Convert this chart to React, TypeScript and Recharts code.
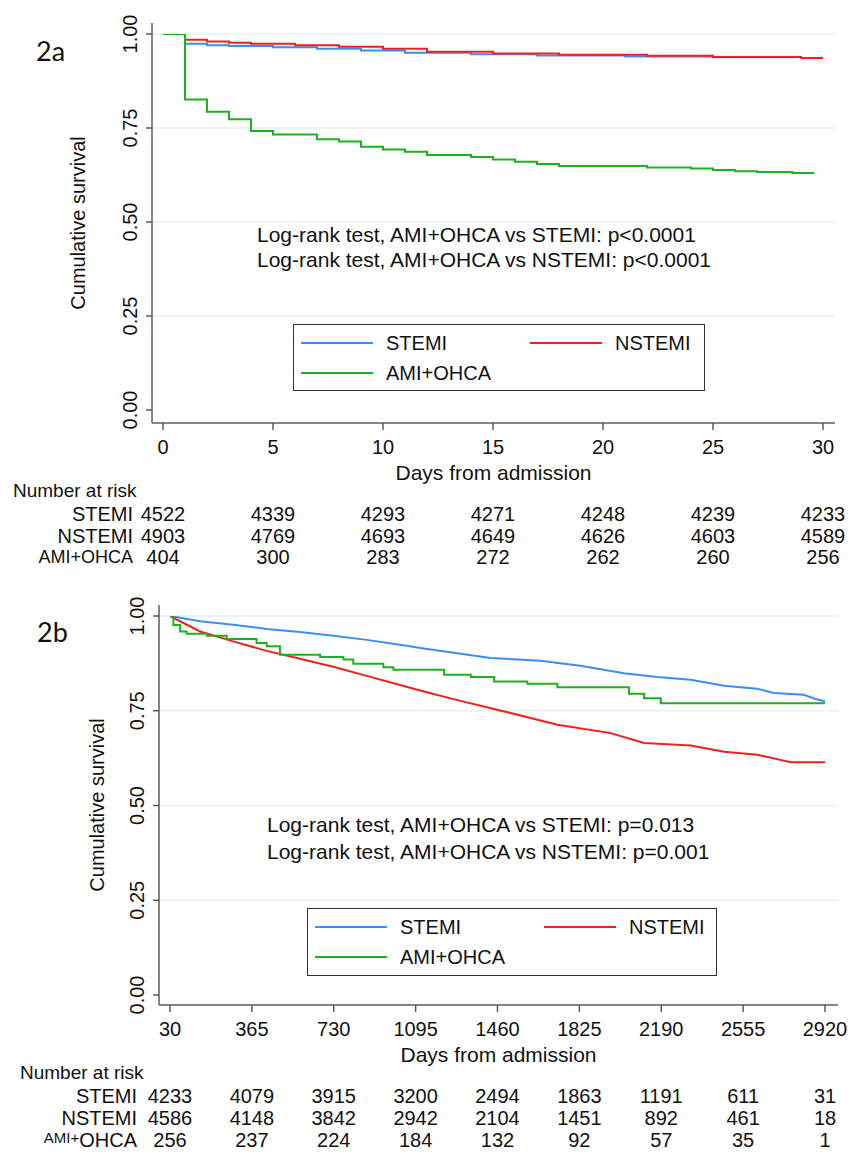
import React from "react";
import { LineChart, Line, XAxis, YAxis, CartesianGrid, Legend } from "recharts";

const FONT = '"Liberation Sans", Arial, Helvetica, sans-serif';
const AXIS = "#5c5c5c";
const INK = "#111";

const seriesNames = ["STEMI", "NSTEMI", "AMI+OHCA"];
const seriesColors = ["#3a8ef2", "#f41e1e", "#1db21d"];
const yTicks = [0, 0.25, 0.5, 0.75, 1];
const yTickLabels = ["0.00", "0.25", "0.50", "0.75", "1.00"];

// 2a: first 30 days
const ticksA = [0, 5, 10, 15, 20, 25, 30];
const tickLabelsA = ["0", "5", "10", "15", "20", "25", "30"];
const stemiDaysA = [0, 1, 2, 3, 5, 7, 9, 11, 14, 17, 21, 25, 28.8];
const stemiSurvA = [1, 0.974, 0.97, 0.968, 0.965, 0.961, 0.956, 0.95, 0.946, 0.943, 0.94, 0.938, 0.938];
const nstemiDaysA = [0, 1, 2, 3, 4, 6, 8, 10, 12, 15, 18, 22, 25, 29, 30];
const nstemiSurvA = [1, 0.985, 0.98, 0.977, 0.974, 0.97, 0.966, 0.961, 0.953, 0.948, 0.945, 0.942, 0.939, 0.936, 0.936];
const ohcaDaysA = [0, 1, 2, 3, 4, 5, 7, 8, 9, 10, 11, 12, 14, 15, 16, 17, 18, 22, 24, 25, 26, 27, 28.6, 29.6];
const ohcaSurvA = [1, 0.826, 0.793, 0.773, 0.742, 0.733, 0.72, 0.714, 0.7, 0.693, 0.687, 0.678, 0.673, 0.666, 0.66, 0.654, 0.649, 0.645, 0.642, 0.638, 0.635, 0.633, 0.63, 0.63];
const riskStemiA = [4522, 4339, 4293, 4271, 4248, 4239, 4233];
const riskNstemiA = [4903, 4769, 4693, 4649, 4626, 4603, 4589];
const riskOhcaA = [404, 300, 283, 272, 262, 260, 256];
const testsA = [
  "Log-rank test, AMI+OHCA vs STEMI: p<0.0001",
  "Log-rank test, AMI+OHCA vs NSTEMI: p<0.0001",
];

// 2b: 30 days to 8 years (tick "30" sits at position 0)
const ticksB = [0, 365, 730, 1095, 1460, 1825, 2190, 2555, 2920];
const tickLabelsB = ["30", "365", "730", "1095", "1460", "1825", "2190", "2555", "2920"];
const stemiDaysB = [0, 134, 281, 431, 580, 728, 877, 1025, 1132, 1281, 1429, 1651, 1829, 2024, 2172, 2321, 2470, 2618, 2692, 2826, 2878, 2922];
const stemiSurvB = [1, 0.986, 0.977, 0.966, 0.958, 0.948, 0.937, 0.924, 0.914, 0.902, 0.889, 0.882, 0.869, 0.849, 0.839, 0.832, 0.816, 0.808, 0.797, 0.792, 0.781, 0.775];
const nstemiDaysB = [0, 45, 89, 134, 281, 431, 580, 727, 877, 1025, 1132, 1281, 1519, 1727, 1965, 2113, 2321, 2470, 2618, 2767, 2927];
const nstemiSurvB = [1, 0.986, 0.973, 0.959, 0.933, 0.908, 0.887, 0.866, 0.842, 0.818, 0.801, 0.778, 0.744, 0.713, 0.691, 0.665, 0.658, 0.642, 0.634, 0.614, 0.614];
const ohcaDaysB = [0, 15, 45, 74, 164, 253, 386, 431, 490, 669, 773, 817, 951, 996, 1222, 1341, 1445, 1593, 1727, 2046, 2113, 2188, 2922];
const ohcaSurvB = [1, 0.976, 0.959, 0.953, 0.948, 0.939, 0.929, 0.92, 0.898, 0.892, 0.885, 0.874, 0.865, 0.858, 0.845, 0.839, 0.827, 0.821, 0.812, 0.795, 0.783, 0.77, 0.77];
const riskStemiB = [4233, 4079, 3915, 3200, 2494, 1863, 1191, 611, 31];
const riskNstemiB = [4586, 4148, 3842, 2942, 2104, 1451, 892, 461, 18];
const riskOhcaB = [256, 237, 224, 184, 132, 92, 57, 35, 1];
const testsB = [
  "Log-rank test, AMI+OHCA vs STEMI: p=0.013",
  "Log-rank test, AMI+OHCA vs NSTEMI: p=0.001",
];

const toPoints = (days: number[], surv: number[]) => days.map((t, i) => ({ t, s: surv[i] }));

const panelA = {
  tag: "2a",
  top: 0,
  ticks: ticksA,
  tickLabels: tickLabelsA,
  domain: [0, 30],
  days: [stemiDaysA, nstemiDaysA, ohcaDaysA],
  surv: [stemiSurvA, nstemiSurvA, ohcaSurvA],
  risk: [riskStemiA, riskNstemiA, riskOhcaA],
  tests: testsA,
  lineTypes: ["stepAfter", "stepAfter", "stepAfter"],
  plot: { left: 152, right: 835, top: 23, bottom: 423 },
  padX: { left: 11, right: 12 },
  padY: { top: 11, bottom: 13 },
  axisHeights: [58, 23, 22, 21, 22],
  legend: { left: 293, top: 324, width: 412, height: 67 },
  tagPos: [36, 61],
  testPos: [257, 242, 25],
  ylabelX: 78,
  narX: 13,
  rowLabelX: 133,
  smallAmi: false,
};

const panelB = {
  tag: "2b",
  top: 580,
  ticks: ticksB,
  tickLabels: tickLabelsB,
  domain: [0, 2920],
  days: [stemiDaysB, nstemiDaysB, ohcaDaysB],
  surv: [stemiSurvB, nstemiSurvB, ohcaSurvB],
  risk: [riskStemiB, riskNstemiB, riskOhcaB],
  tests: testsB,
  lineTypes: ["linear", "linear", "stepAfter"],
  plot: { left: 159, right: 838, top: 25, bottom: 425 },
  padX: { left: 11, right: 13 },
  padY: { top: 11, bottom: 10 },
  axisHeights: [58, 23, 22, 22, 20],
  legend: { left: 307, top: 328, width: 410, height: 68 },
  tagPos: [37, 62],
  testPos: [267, 252, 27],
  ylabelX: 97,
  narX: 20,
  rowLabelX: 137,
  smallAmi: true,
};

function LegendBox({ payload }: any) {
  const items = payload || [];
  return (
    <div
      style={{
        position: "relative",
        width: "100%",
        height: "100%",
        boxSizing: "border-box",
        border: "1.5px solid #333",
        background: "#fff",
        fontFamily: FONT,
        fontSize: 20,
        color: INK,
      }}
    >
      {seriesNames.map((name, i) => {
        const entry = items.find((p: any) => p.value === name);
        const color = entry ? entry.color : seriesColors[i];
        const col = i % 2;
        const row = Math.floor(i / 2);
        const left = 7 + col * 229;
        const top = 18 + row * 30;
        return (
          <div key={name}>
            <div
              style={{
                position: "absolute",
                left,
                top: top - 1,
                width: 72,
                height: 2,
                background: color,
              }}
            />
            <div
              style={{
                position: "absolute",
                left: left + 85,
                top: top - 11,
                lineHeight: "22px",
                whiteSpace: "nowrap",
              }}
            >
              {name}
            </div>
          </div>
        );
      })}
    </div>
  );
}

function SurvivalPanel({ cfg }: { cfg: typeof panelA }) {
  const { plot } = cfg;
  const height = plot.bottom + cfg.axisHeights.reduce((a, b) => a + b, 0);
  const midX = (plot.left + plot.right) / 2;

  const yTick = (props: any) => {
    const { x, y, index } = props;
    const bx = x - 9;
    return (
      <text x={bx} y={y} transform={`rotate(-90 ${bx} ${y})`} textAnchor="middle" fontSize={20} fill={INK} fontFamily={FONT}>
        {yTickLabels[index]}
      </text>
    );
  };

  const xTick = (props: any) => (
    <text x={props.x} y={props.y + 24} textAnchor="middle" fontSize={20} fill={INK} fontFamily={FONT}>
      {cfg.tickLabels[props.index]}
    </text>
  );

  const narTick = (props: any) =>
    props.index === 0 ? (
      <text x={cfg.narX} y={props.y + 16} textAnchor="start" fontSize={19} fill={INK} fontFamily={FONT}>
        Number at risk
      </text>
    ) : (
      <g />
    );

  const riskTick = (row: number) => (props: any) => {
    const { x, y, index } = props;
    let label: React.ReactNode = seriesNames[row];
    if (row === 2) {
      label = cfg.smallAmi ? (
        <>
          <tspan fontSize={15} dy={-4}>AMI+</tspan>
          <tspan dy={4}>OHCA</tspan>
        </>
      ) : (
        <tspan fontSize={18} dy={-1}>AMI+OHCA</tspan>
      );
    }
    return (
      <g>
        {index === 0 ? (
          <text x={cfg.rowLabelX} y={y + 17} textAnchor="end" fontSize={20} fill={INK} fontFamily={FONT}>
            {label}
          </text>
        ) : null}
        <text x={x} y={y + 17} textAnchor="middle" fontSize={20} fill={INK} fontFamily={FONT}>
          {cfg.risk[row][index]}
        </text>
      </g>
    );
  };

  const riskAxis = (id: string, h: number, tick: any) => (
    <XAxis
      key={id}
      xAxisId={id}
      type="number"
      dataKey="t"
      domain={cfg.domain}
      allowDataOverflow
      ticks={cfg.ticks}
      interval={0}
      padding={cfg.padX}
      height={h}
      axisLine={false}
      tickLine={false}
      tickSize={0}
      tickMargin={0}
      tick={tick}
    />
  );

  return (
    <div style={{ position: "absolute", left: 0, top: cfg.top, width: 848, height }}>
      <LineChart
        width={848}
        height={height}
        margin={{ top: plot.top, right: 848 - plot.right, left: 0, bottom: 0 }}
        style={{ fontFamily: FONT }}
      >
        <CartesianGrid vertical={false} horizontalValues={[0.25, 0.5, 0.75, 1]} stroke="#e6eff6" strokeWidth={1.5} />
        <XAxis
          xAxisId={0}
          type="number"
          dataKey="t"
          domain={cfg.domain}
          allowDataOverflow
          ticks={cfg.ticks}
          interval={0}
          padding={cfg.padX}
          height={cfg.axisHeights[0]}
          axisLine={{ stroke: AXIS, strokeWidth: 1.5 }}
          tickLine={{ stroke: AXIS, strokeWidth: 1.5 }}
          tickSize={7}
          tickMargin={0}
          tick={xTick}
          label={() => (
            <text x={midX} y={plot.bottom + 57} textAnchor="middle" fontSize={21} fill={INK} fontFamily={FONT}>
              Days from admission
            </text>
          )}
        />
        {riskAxis("nar", cfg.axisHeights[1], narTick)}
        {riskAxis("r0", cfg.axisHeights[2], riskTick(0))}
        {riskAxis("r1", cfg.axisHeights[3], riskTick(1))}
        {riskAxis("r2", cfg.axisHeights[4], riskTick(2))}
        <YAxis
          type="number"
          domain={[0, 1]}
          allowDataOverflow
          ticks={yTicks}
          interval={0}
          padding={cfg.padY}
          width={plot.left}
          axisLine={{ stroke: AXIS, strokeWidth: 1.5 }}
          tickLine={{ stroke: AXIS, strokeWidth: 1.5 }}
          tickSize={6}
          tickMargin={0}
          tick={yTick}
        />
        <Legend
          layout="horizontal"
          verticalAlign="middle"
          align="center"
          wrapperStyle={{
            left: cfg.legend.left,
            top: cfg.legend.top,
            width: cfg.legend.width,
            height: cfg.legend.height,
          }}
          content={(p: any) => <LegendBox payload={p.payload} />}
        />
        {seriesNames.map((name, i) => (
          <Line
            key={name}
            name={name}
            data={toPoints(cfg.days[i], cfg.surv[i])}
            dataKey="s"
            type={cfg.lineTypes[i] as any}
            stroke={seriesColors[i]}
            strokeWidth={2}
            dot={false}
            activeDot={false}
            isAnimationActive={false}
          />
        ))}
      </LineChart>
      <svg
        width={848}
        height={height}
        style={{ position: "absolute", left: 0, top: 0, pointerEvents: "none" }}
      >
        <text x={cfg.tagPos[0]} y={cfg.tagPos[1]} fontSize={27} fill={INK} fontFamily='Lato, "Open Sans", sans-serif'>
          {cfg.tag}
        </text>
        {cfg.tests.map((line, i) => (
          <text
            key={line}
            x={cfg.testPos[0]}
            y={cfg.testPos[1] + i * cfg.testPos[2]}
            fontSize={21}
            fill={INK}
            fontFamily={FONT}
          >
            {line}
          </text>
        ))}
        <text
          transform={`translate(${cfg.ylabelX} ${(plot.top + plot.bottom) / 2}) rotate(-90)`}
          textAnchor="middle"
          dy="0.35em"
          fontSize={20}
          fill={INK}
          fontFamily={FONT}
        >
          Cumulative survival
        </text>
      </svg>
    </div>
  );
}

export default function App() {
  return (
    <div
      style={{
        position: "absolute",
        left: 0,
        top: 0,
        width: 848,
        height: 1152,
        background: "#fff",
        overflow: "hidden",
      }}
    >
      <SurvivalPanel cfg={panelA} />
      <SurvivalPanel cfg={panelB} />
    </div>
  );
}
